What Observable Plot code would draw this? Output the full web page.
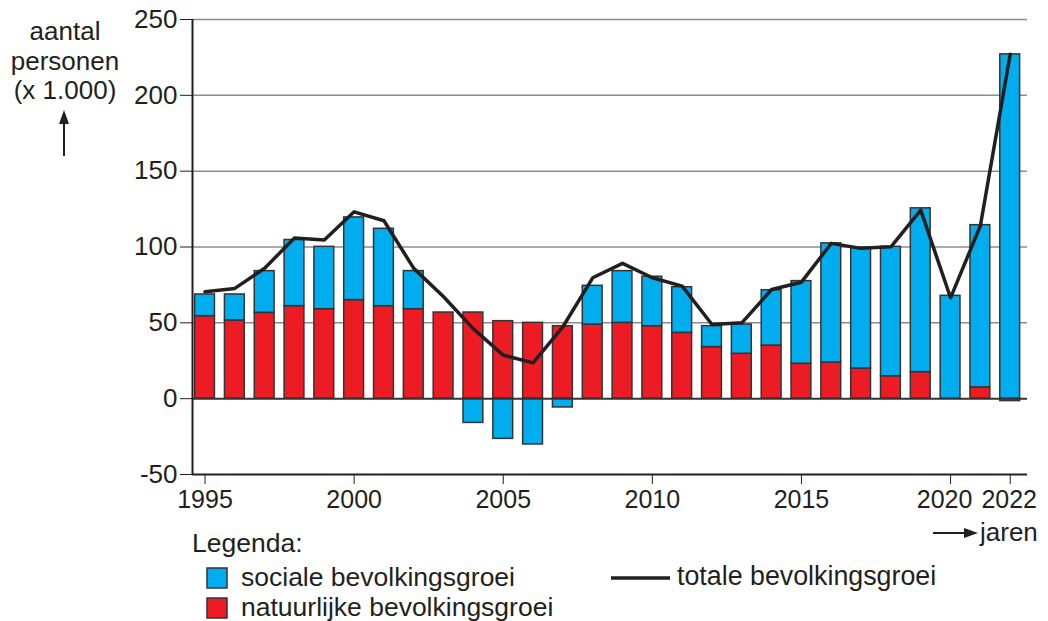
<!DOCTYPE html>
<html>
<head>
<meta charset="utf-8">
<script src="https://cdn.jsdelivr.net/npm/d3@7"></script>
<script src="https://cdn.jsdelivr.net/npm/@observablehq/plot@0.6"></script>
<style>
  html, body { margin: 0; padding: 0; background: #fff; }
  #wrap { position: relative; width: 1048px; height: 621px; overflow: hidden; font-family: "Liberation Sans", Arial, sans-serif; color: #231f20; }
  #chart { position: absolute; left: 0; top: 0; }
  #overlay { position: absolute; left: 0; top: 0; pointer-events: none; }
</style>
</head>
<body>
<div id="wrap">
  <div id="chart"></div>
  <svg id="overlay" width="1048" height="621" font-family="Liberation Sans, Arial, sans-serif" fill="#231f20">
    <g font-size="26" text-anchor="middle">
      <text x="65" y="40">aantal</text>
      <text x="65" y="70">personen</text>
      <text x="65" y="99">(x 1.000)</text>
    </g>
    <line x1="64" y1="156" x2="64" y2="122" stroke="#231f20" stroke-width="2"/>
    <path d="M59,124 L64,110 L69,124 Z" fill="#231f20"/>
    <line x1="933" y1="533" x2="966" y2="533" stroke="#231f20" stroke-width="2"/>
    <path d="M964,528 L978,533 L964,538 Z" fill="#231f20"/>
    <text x="980" y="541" font-size="26">jaren</text>
    <text x="192" y="552" font-size="26.5">Legenda:</text>
    <rect x="207" y="568" width="20" height="20" fill="#00aeef" stroke="#333" stroke-width="1.5"/>
    <text x="241" y="586" font-size="26.5">sociale bevolkingsgroei</text>
    <rect x="207" y="598" width="20" height="20" fill="#ed1c24" stroke="#333" stroke-width="1.5"/>
    <text x="241" y="616" font-size="26.5">natuurlijke bevolkingsgroei</text>
    <line x1="611" y1="578" x2="670" y2="578" stroke="#231f20" stroke-width="3.5"/>
    <text x="677" y="585" font-size="26.8">totale bevolkingsgroei</text>
  </svg>
</div>
<script>
const years   = [1995,1996,1997,1998,1999,2000,2001,2002,2003,2004,2005,2006,2007,2008,2009,2010,2011,2012,2013,2014,2015,2016,2017,2018,2019,2020,2021,2022];
const natural = [54.4,51.6,56.6,61.0,59.0,65.0,61.0,59.0,56.8,56.8,51.1,50.0,47.8,48.9,50.0,47.8,43.4,34.0,29.6,35.0,23.0,23.9,19.9,14.8,17.5,0.0,7.4,-1.6];
const social  = [14.3,17.1,27.5,43.6,41.1,54.5,51.0,25.1,0.0,-16.0,-26.5,-30.2,-5.8,25.5,34.1,32.6,30.1,13.8,19.3,36.5,54.5,78.5,79.6,85.3,108.0,67.8,107.0,227.0];
const total   = [70.5,72.7,86.0,106.0,104.6,123.2,117.3,85.9,67.2,46.0,28.7,23.6,47.4,79.7,89.2,79.7,74.2,48.9,50.0,72.0,76.8,102.4,99.1,100.1,124.3,66.5,114.0,227.0];
const xTicks  = [1995,2000,2005,2010,2015,2020,2022];
const yTicks  = [-50,0,50,100,150,200,250];
const gridTicks = [50,100,150,200,250];

const BLUE = "#00aeef", RED = "#ed1c24", INK = "#231f20";

// stacked segments (positive values stack upward, negative downward)
const segs = years.flatMap((year, i) => {
  const n = natural[i], s = social[i];
  const base = s >= 0 ? Math.max(0, n) : Math.min(0, n);
  return [
    {year, type: "natuurlijke", y1: Math.min(0, n), y2: Math.max(0, n)},
    {year, type: "sociale", y1: s >= 0 ? base : base + s, y2: s >= 0 ? base + s : base}
  ];
});
const lineData = years.map((year, i) => ({year, total: total[i]}));

const xMin = 1994.58, xMax = 2022.58;

const chart = Plot.plot({
  width: 1048,
  height: 520,
  marginTop: 19,
  marginBottom: 46,
  marginLeft: 192,
  marginRight: 21,
  style: {fontFamily: "Liberation Sans, Arial, sans-serif", fontSize: "26px", color: INK, background: "#fff", overflow: "visible"},
  x: {type: "linear", domain: [xMin, xMax], ticks: xTicks, tickFormat: d => String(d), tickSize: 10, tickPadding: 6, label: null},
  y: {domain: [-50, 250], ticks: yTicks, tickFormat: d => String(d), tickSize: 12, tickPadding: 3, label: null},
  marks: [
    Plot.ruleY(gridTicks, {stroke: "#8c8c8c", strokeWidth: 1.5}),
    Plot.rect(segs, {
      x1: d => d.year - 0.5, x2: d => d.year + 0.5,
      y1: "y1", y2: "y2",
      fill: d => d.type === "sociale" ? BLUE : RED,
      stroke: "#333", strokeWidth: 1.5,
      insetLeft: 5, insetRight: 5
    }),
    Plot.ruleY([0], {stroke: "#333", strokeWidth: 2}),
    Plot.ruleY([-50], {x1: xMin, x2: xMax, stroke: INK, strokeWidth: 2}),
    Plot.ruleX([xMin], {y1: -50, y2: 250, stroke: INK, strokeWidth: 2}),
    Plot.line(lineData, {x: "year", y: "total", stroke: INK, strokeWidth: 3.5})
  ]
});
// year labels slightly smaller; the last two are nudged left so they do not touch
chart.querySelectorAll("text").forEach(t => {
  const s = t.textContent.trim();
  if (/^\d{4}$/.test(s)) t.setAttribute("font-size", "25");
  if (s === "2020") t.setAttribute("dx", "-6");
  if (s === "2022") t.setAttribute("dx", "-1");
});
document.getElementById("chart").appendChild(chart);
</script>
</body>
</html>
